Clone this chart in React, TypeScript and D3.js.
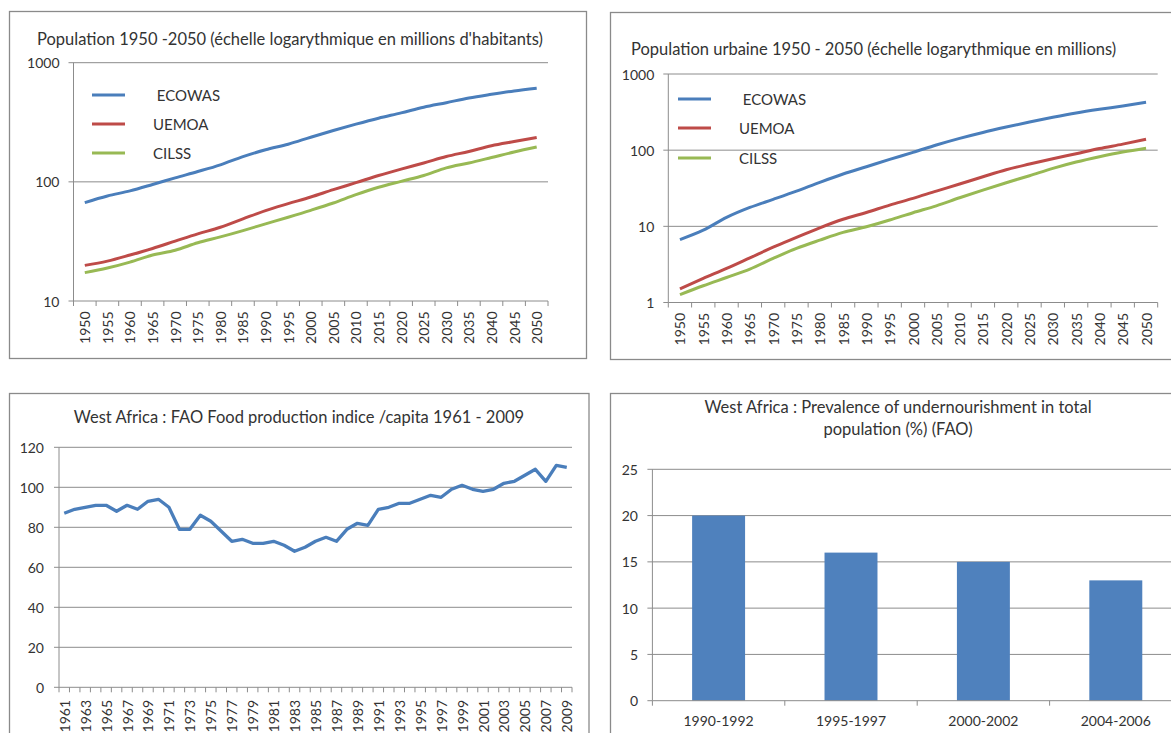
import * as d3 from "d3";
import React from "react";

// --- data ---
const popYears = ["1950", "1955", "1960", "1965", "1970", "1975", "1980", "1985", "1990", "1995", "2000",
    "2005", "2010", "2015", "2020", "2025", "2030", "2035", "2040", "2045", "2050"];

const popEcowas = [67, 76, 84, 95, 108, 122, 139, 163, 186, 207, 237, 270, 305, 342, 379, 423, 462, 506, 543, 579, 610];
const popUemoa = [19.9, 21.6, 24.3, 27.6, 31.8, 36.6, 41.6, 48.9, 57.4, 65.6, 74.6, 86, 98.4, 113, 128, 144, 163, 180, 201, 218, 236];
const popCilss = [17.3, 18.9, 21.2, 24.3, 26.7, 30.8, 34.5, 39, 44.4, 50.5, 57.7, 66.5, 78.1, 90, 101, 113, 131, 144, 160, 178, 196];

const urbEcowas = [6.7, 8.9, 13.1, 17.7, 22.6, 29, 37.8, 48.6, 60.6, 75.7, 93.5, 117, 143, 171, 201, 234, 270, 308, 344, 380, 425];
const urbUemoa = [1.51, 2.07, 2.8, 3.86, 5.33, 7.15, 9.57, 12.4, 15.2, 19, 23.3, 29, 35.9, 44.8, 55.4, 65.7, 77.2, 89.9, 105, 120, 139];
const urbCilss = [1.27, 1.66, 2.13, 2.74, 3.79, 5.13, 6.59, 8.32, 9.87, 12.1, 15.1, 18.6, 23.7, 29.9, 37.4, 46.2, 57.6, 69.8, 82, 94.5, 106];

const foodYears = ["1961", "1962", "1963", "1964", "1965", "1966", "1967", "1968", "1969", "1970",
    "1971", "1972", "1973", "1974", "1975", "1976", "1977", "1978", "1979", "1980",
    "1981", "1982", "1983", "1984", "1985", "1986", "1987", "1988", "1989", "1990",
    "1991", "1992", "1993", "1994", "1995", "1996", "1997", "1998", "1999", "2000",
    "2001", "2002", "2003", "2004", "2005", "2006", "2007", "2008", "2009"];
const foodIndex = [87, 89, 90, 91, 91, 88, 91, 89, 93, 94,
    90, 79, 79, 86, 83, 78, 73, 74, 72, 72,
    73, 71, 68, 70, 73, 75, 73, 79, 82, 81,
    89, 90, 92, 92, 94, 96, 95, 99, 101, 99,
    98, 99, 102, 103, 106, 109, 103, 111, 110];

const periods = ["1990-1992", "1995-1997", "2000-2002", "2004-2006"];
const undernourished = [20, 16, 15, 13];

const seriesNames = [" ECOWAS", "UEMOA", "CILSS"];
const seriesColours = ["#4A7EBB", "#BE4B48", "#98B954"];

const FONT = "Lato, 'Open Sans', sans-serif";
const TEXT = "#333";
const GRID = "#8c8c8c";
const BORDER = "#8a8a8a";
const TITLE_SIZE = 16.5;

interface LogChartProps {
    box: number[];
    title: string;
    titleX: number;
    titleY: number;
    left: number;
    right: number;
    top: number;
    bottom: number;
    domain: [number, number];
    yTicks: number[];
    data: number[][];
    legendX: number;
    legendY: number[];
    labelTop: number;
}

function LogChart(props: LogChartProps) {
    const x = d3.scaleBand<string>().domain(popYears).range([props.left, props.right]);
    const y = d3.scaleLog().domain(props.domain).range([props.bottom, props.top]);
    const bw = x.bandwidth();

    const line = d3.line<number>()
        .x((d, i) => (x(popYears[i]) || 0) + bw / 2)
        .y(d => y(d))
        .curve(d3.curveMonotoneX);

    const [bx, by, bw2, bh] = props.box;

    return (
        <g>
            <rect x={bx} y={by} width={bw2} height={bh} fill="#fff" stroke={BORDER} strokeWidth={1.3} />
            <text x={props.titleX} y={props.titleY} fontSize={TITLE_SIZE} fill={TEXT}>{props.title}</text>
            {props.yTicks.map(t => (
                <g key={t}>
                    <line x1={props.left - 5} x2={t === props.domain[0] ? props.left : props.right}
                        y1={y(t)} y2={y(t)} stroke={GRID} />
                    <text x={props.left - 14} y={y(t)} textAnchor="end" dominantBaseline="central"
                        fontSize={14} fill={TEXT}>{t}</text>
                </g>
            ))}
            <line x1={props.left} x2={props.right} y1={props.bottom} y2={props.bottom} stroke={GRID} />
            <line x1={props.left} x2={props.left} y1={props.top} y2={props.bottom} stroke={GRID} />
            {d3.range(popYears.length + 1).map(i => (
                <line key={i} x1={props.left + i * bw} x2={props.left + i * bw}
                    y1={props.bottom} y2={props.bottom + 5} stroke={GRID} />
            ))}
            {popYears.map(yr => {
                const cx = (x(yr) || 0) + bw / 2;
                return (
                    <text key={yr} transform={`translate(${cx},${props.labelTop}) rotate(-90)`}
                        textAnchor="end" dominantBaseline="central" fontSize={14} fill={TEXT}>{yr}</text>
                );
            })}
            {props.data.map((vals, i) => (
                <path key={i} d={line(vals) || ""} fill="none" stroke={seriesColours[i]}
                    strokeWidth={3} strokeLinejoin="round" />
            ))}
            {seriesNames.map((n, i) => (
                <g key={n}>
                    <line x1={props.legendX} x2={props.legendX + 33} y1={props.legendY[i]} y2={props.legendY[i]}
                        stroke={seriesColours[i]} strokeWidth={3} />
                    <text x={props.legendX + 61} y={props.legendY[i]} dominantBaseline="central"
                        fontSize={15} fill={TEXT} style={{ whiteSpace: "pre" }}>{n}</text>
                </g>
            ))}
        </g>
    );
}

function FoodChart() {
    const left = 59, right = 572, top = 447.3, bottom = 687.3;
    const x = d3.scaleBand<string>().domain(foodYears).range([left, right]);
    const y = d3.scaleLinear().domain([0, 120]).range([bottom, top]);
    const bw = x.bandwidth();
    const line = d3.line<number>()
        .x((d, i) => (x(foodYears[i]) || 0) + bw / 2)
        .y(d => y(d));

    return (
        <g>
            <rect x={9.5} y={393.5} width={579.5} height={360} fill="#fff" stroke={BORDER} strokeWidth={1.3} />
            <text x={299} y={422.5} textAnchor="middle" fontSize={TITLE_SIZE} fill={TEXT}>
                West Africa : FAO Food production indice /capita 1961 - 2009
            </text>
            {y.ticks(6).map(t => (
                <g key={t}>
                    <line x1={left - 5} x2={t === 0 ? left : right} y1={y(t)} y2={y(t)} stroke={GRID} />
                    <text x={left - 15} y={y(t)} textAnchor="end" dominantBaseline="central"
                        fontSize={14} fill={TEXT}>{t}</text>
                </g>
            ))}
            <line x1={left} x2={right} y1={bottom} y2={bottom} stroke={GRID} />
            <line x1={left} x2={left} y1={top} y2={bottom} stroke={GRID} />
            {d3.range(foodYears.length + 1).map(i => (
                <line key={i} x1={left + i * bw} x2={left + i * bw} y1={bottom} y2={bottom + 5} stroke={GRID} />
            ))}
            {foodYears.filter((d, i) => i % 2 === 0).map(yr => {
                const cx = (x(yr) || 0) + bw / 2;
                return (
                    <text key={yr} transform={`translate(${cx},700) rotate(-90)`}
                        textAnchor="end" dominantBaseline="central" fontSize={14} fill={TEXT}>{yr}</text>
                );
            })}
            <path d={line(foodIndex) || ""} fill="none" stroke="#4A7EBB" strokeWidth={3.3} strokeLinejoin="round" />
        </g>
    );
}

function BarChart() {
    const left = 652.4, right = 1182, top = 469.3, bottom = 700.7;
    const x = d3.scaleBand<string>().domain(periods).range([left, right]);
    const y = d3.scaleLinear().domain([0, 25]).range([bottom, top]);
    const bw = x.bandwidth();
    const barW = bw / 2.5;

    return (
        <g>
            <rect x={610.5} y={393.5} width={600} height={360} fill="#fff" stroke={BORDER} strokeWidth={1.3} />
            <text x={898} y={413.3} textAnchor="middle" fontSize={TITLE_SIZE} fill={TEXT}>
                West Africa : Prevalence of undernourishment in total
            </text>
            <text x={898} y={435} textAnchor="middle" fontSize={TITLE_SIZE} fill={TEXT}>population (%) (FAO)</text>
            {y.ticks(5).map(t => (
                <g key={t}>
                    <line x1={left - 5} x2={t === 0 ? left : right} y1={y(t)} y2={y(t)} stroke={GRID} />
                    <text x={638} y={y(t)} textAnchor="end" dominantBaseline="central"
                        fontSize={14} fill={TEXT}>{t}</text>
                </g>
            ))}
            {periods.map((p, i) => (
                <rect key={p} x={(x(p) || 0) + (bw - barW) / 2} y={y(undernourished[i])}
                    width={barW} height={bottom - y(undernourished[i])} fill="#4F81BD" />
            ))}
            <line x1={left} x2={right} y1={bottom} y2={bottom} stroke={GRID} />
            <line x1={left} x2={left} y1={top} y2={bottom} stroke={GRID} />
            {d3.range(periods.length + 1).map(i => (
                <line key={i} x1={left + i * bw} x2={left + i * bw} y1={bottom} y2={bottom + 5} stroke={GRID} />
            ))}
            {periods.map(p => (
                <text key={p} x={(x(p) || 0) + bw / 2} y={726} textAnchor="middle" fontSize={14} fill={TEXT}>{p}</text>
            ))}
        </g>
    );
}

export default function App() {
    return (
        <svg width={1171} height={733} style={{ position: "absolute", left: 0, top: 0, fontFamily: FONT }}>
            <rect width={1171} height={733} fill="#fff" />
            <LogChart
                box={[9.5, 11.5, 577, 347]}
                title="Population 1950 -2050 (échelle logarythmique en millions d'habitants)"
                titleX={37} titleY={44.5}
                left={73.5} right={548} top={62.7} bottom={301}
                domain={[10, 1000]} yTicks={[10, 100, 1000]}
                data={[popEcowas, popUemoa, popCilss]}
                legendX={92} legendY={[95, 124, 153]}
                labelTop={311.5}
            />
            <LogChart
                box={[610.5, 12.5, 600, 347]}
                title="Population urbaine 1950 - 2050 (échelle logarythmique en millions)"
                titleX={631} titleY={55}
                left={668.3} right={1157.7} top={74} bottom={302.5}
                domain={[1, 1000]} yTicks={[1, 10, 100, 1000]}
                data={[urbEcowas, urbUemoa, urbCilss]}
                legendX={678} legendY={[99, 128, 158]}
                labelTop={313}
            />
            <FoodChart />
            <BarChart />
        </svg>
    );
}
